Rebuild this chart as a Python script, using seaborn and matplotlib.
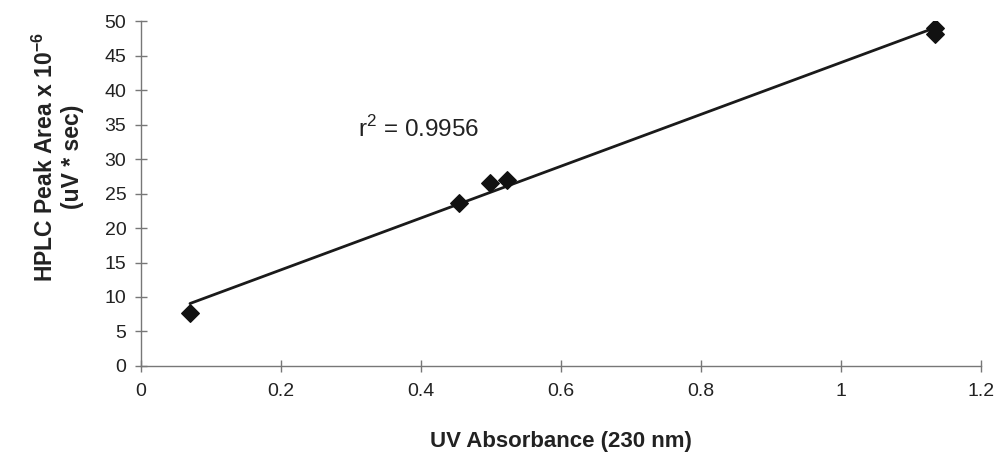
import numpy as np
import pandas as pd
import seaborn as sns
import matplotlib
matplotlib.use("Agg")
import matplotlib.pyplot as plt

# Data
uv_absorbance = [0.070, 0.454, 0.499, 0.523, 1.134, 1.134]
peak_area = [7.7, 23.6, 26.5, 26.9, 49.0, 48.1]
r2_text = "r$^2$ = 0.9956"
x_ticks = [0, 0.2, 0.4, 0.6, 0.8, 1.0, 1.2]
x_tick_labels = ["0", "0.2", "0.4", "0.6", "0.8", "1", "1.2"]
y_ticks = [0, 5, 10, 15, 20, 25, 30, 35, 40, 45, 50]

df = pd.DataFrame({"uv": uv_absorbance, "area": peak_area})

sns.set_theme(style="white")
plt.rcParams["font.family"] = ["Liberation Sans", "DejaVu Sans"]
plt.rcParams["mathtext.fontset"] = "custom"
plt.rcParams["mathtext.rm"] = "Liberation Sans"
plt.rcParams["mathtext.bf"] = "Liberation Sans:bold"

fig = plt.figure(figsize=(9.97, 4.68), dpi=100)
ax = fig.add_axes([0.1414, 0.218, 0.8425, 0.737])

sns.regplot(data=df, x="uv", y="area", ax=ax, ci=None, marker="D",
            scatter_kws={"color": "#111111", "s": 80, "alpha": 1.0,
                         "edgecolor": "#111111", "zorder": 3},
            line_kws={"color": "#1a1a1a", "lw": 2.0})

ax.set_xlim(0, 1.2)
ax.set_ylim(0, 50)
ax.set_xticks(x_ticks)
ax.set_xticklabels(x_tick_labels)
ax.set_yticks(y_ticks)

for s in ["top", "right"]:
    ax.spines[s].set_visible(False)
for s in ["left", "bottom"]:
    ax.spines[s].set_color("#777777")
    ax.spines[s].set_linewidth(1.0)

ax.tick_params(axis="both", which="major", bottom=True, left=True,
               direction="inout", length=9, width=1.0,
               color="#777777", labelsize=14, labelcolor="#222222")
ax.tick_params(axis="x", pad=8)
ax.tick_params(axis="y", pad=6)

ax.set_xlabel("UV Absorbance (230 nm)", fontsize=16, fontweight="bold",
              color="#222222", labelpad=22)
ax.set_ylabel("HPLC Peak Area x 10$^{\\mathbf{-6}}$\n(uV * sec)", fontsize=16.5,
              fontweight="bold", color="#222222", linespacing=1.15)
ax.yaxis.set_label_coords(-0.068, 0.605)

ax.text(0.31, 34.4, r2_text, fontsize=17.5, color="#222222", va="center", ha="left")

fig.savefig("out.png", dpi=100)
